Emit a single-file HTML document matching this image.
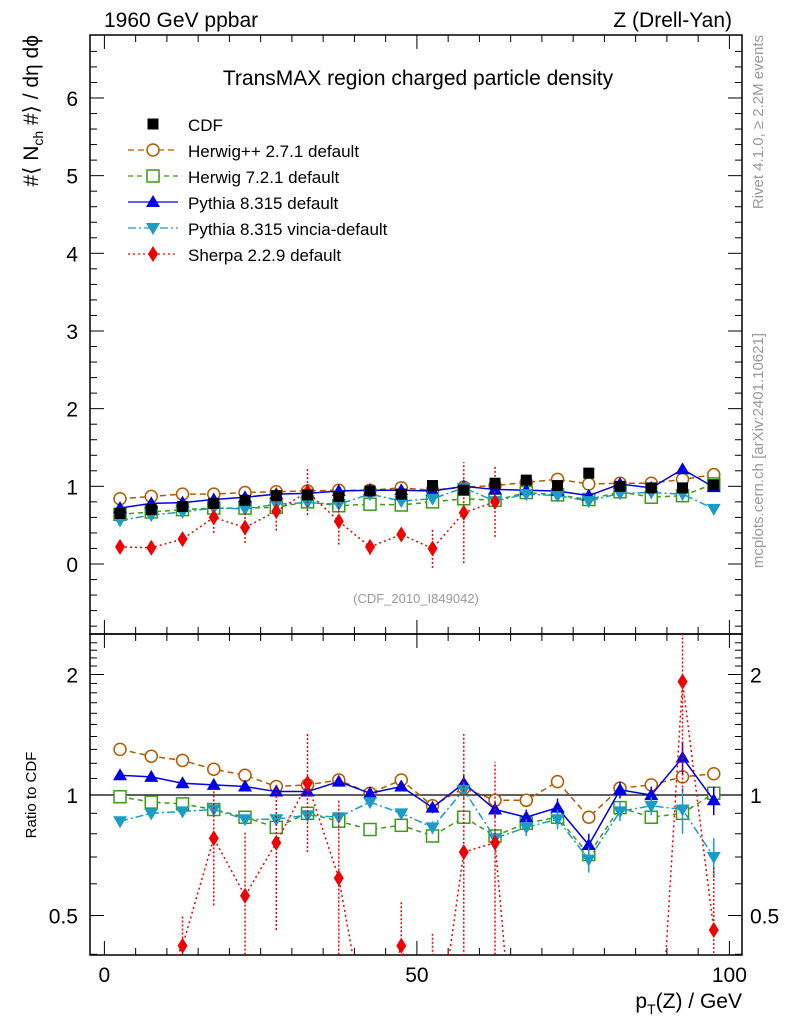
<!DOCTYPE html>
<html><head><meta charset="utf-8"><style>
html,body{margin:0;padding:0;background:#fff;width:786px;height:1024px;overflow:hidden;}
svg{display:block;font-family:"Liberation Sans",sans-serif;}
</style></head><body>
<svg id="c" width="786" height="1024" viewBox="0 0 786 1024"></svg>
<script>
const xCenters=[2.5,7.5,12.5,17.5,22.5,27.5,32.5,37.5,42.5,47.5,52.5,57.5,62.5,67.5,72.5,77.5,82.5,87.5,92.5,97.5];
const cdfVals=[0.65,0.70,0.74,0.78,0.82,0.88,0.89,0.87,0.94,0.90,1.01,0.95,1.04,1.08,1.01,1.17,1.0,0.98,0.98,1.02];
const herwigppVals=[0.84,0.87,0.90,0.90,0.92,0.93,0.94,0.95,0.95,0.98,0.95,0.99,1.01,1.05,1.09,1.03,1.04,1.04,1.09,1.15];
const herwig7Vals=[0.64,0.67,0.70,0.72,0.72,0.73,0.80,0.75,0.77,0.76,0.80,0.84,0.82,0.92,0.89,0.83,0.93,0.86,0.88,1.03];
const pythiaVals=[0.72,0.78,0.79,0.83,0.86,0.90,0.91,0.94,0.95,0.95,0.94,1.0,0.96,0.95,0.94,0.88,1.03,0.98,1.22,0.99];
const vinciaVals=[0.56,0.63,0.67,0.72,0.71,0.77,0.79,0.77,0.90,0.81,0.84,0.98,0.81,0.90,0.88,0.81,0.91,0.92,0.90,0.71];
const sherpaVals=[0.22,0.21,0.32,0.60,0.47,0.68,0.93,0.55,0.22,0.38,0.20,0.66,0.80];
const sherpaErr=[0.03,0.03,0.05,0.2,0.2,0.25,0.3,0.3,0.1,0.08,0.25,0.65,0.45];
const herwigppRatio=[1.30,1.25,1.22,1.16,1.12,1.05,1.06,1.09,1.01,1.09,0.94,1.04,0.97,0.97,1.08,0.88,1.04,1.06,1.11,1.13];
const herwig7Ratio=[0.99,0.96,0.95,0.92,0.88,0.83,0.90,0.86,0.82,0.84,0.79,0.88,0.79,0.85,0.88,0.71,0.93,0.88,0.90,1.01];
const pythiaRatio=[1.12,1.11,1.07,1.06,1.05,1.02,1.02,1.08,1.01,1.05,0.93,1.07,0.92,0.88,0.93,0.75,1.03,1.0,1.24,0.97];
const vinciaRatio=[0.86,0.90,0.91,0.92,0.87,0.87,0.89,0.88,0.96,0.90,0.83,1.03,0.78,0.83,0.87,0.69,0.91,0.94,0.92,0.70];
const sherpaRatio=[0.34,0.31,0.42,0.78,0.56,0.76,1.07,0.62,0.23,0.42,0.2,0.72,0.76,0.1,0.1,0.1,0.1,0.1,1.92,0.46];
const sherpaRatioErr=[0.05,0.05,0.08,0.25,0.25,0.3,0.35,0.35,0.1,0.12,0.25,0.7,0.45,0,0,0,0,0,0.9,0.2];
const pythiaRatioErr=[0.01,0.01,0.01,0.01,0.01,0.01,0.01,0.01,0.01,0.02,0.03,0.05,0.04,0.04,0.05,0.05,0.05,0.05,0.12,0.08];
const mainTicks=[0,1,2,3,4,5,6];
const ratioTicks=[0.5,1,2];
const xTicks=[0,50,100];

const L=90,R=742,T=35,M=634,B=955;
const X=v=>104.4+v*6.25;
const Y=v=>564-v*77.67;
const YR=v=>795-120.5*Math.log2(Math.max(v,0.05));
const svg=document.getElementById('c');
const NS='http://www.w3.org/2000/svg';
function mk(tag,attrs,parent){const e=document.createElementNS(NS,tag);for(const k in attrs)e.setAttribute(k,attrs[k]);(parent||svg).appendChild(e);return e;}
function txt(s,x,y,size,anchor,fill,parent){const t=mk('text',{x:x,y:y,'font-size':size,'text-anchor':anchor||'start',fill:fill||'#000'},parent);t.textContent=s;return t;}

const defs=mk('defs',{});
const c1=mk('clipPath',{id:'cm'},defs);mk('rect',{x:L,y:T,width:R-L,height:M-T},c1);
const c2=mk('clipPath',{id:'cr'},defs);mk('rect',{x:L,y:M,width:R-L,height:B-M},c2);

let f=mk('rect',{x:L,y:T,width:R-L,height:M-T,fill:'none',stroke:'#000','stroke-width':1.5});

f=mk('rect',{x:L,y:M,width:R-L,height:B-M,fill:'none',stroke:'#000','stroke-width':1.5});


for(let v=-0.8;v<=6.8;v+=0.2){const y=Y(v);if(y<T||y>M)continue;const major=Math.abs(v-Math.round(v))<1e-6;const l=major?14:7;
mk('line',{x1:L,y1:y,x2:L+l,y2:y,stroke:'#000'});mk('line',{x1:R,y1:y,x2:R-l,y2:y,stroke:'#000'});}
mainTicks.forEach(v=>{const t=txt(String(v),78,Y(v)+8,21,'end');});
for(let v=0.4;v<=2.5;v+=0.1){const y=YR(v);if(y<M||y>B)continue;const major=[0.5,1,2].some(m=>Math.abs(m-v)<1e-6);const l=major?14:7;
mk('line',{x1:L,y1:y,x2:L+l,y2:y,stroke:'#000'});mk('line',{x1:R,y1:y,x2:R-l,y2:y,stroke:'#000'});}
ratioTicks.forEach(v=>{let t=txt(String(v),78,YR(v)+8,21,'end');
t=txt(String(v),750,YR(v)+8,21,'start');});
for(let v=0;v<=100;v+=5){const x=X(v);if(x<L||x>R)continue;const l=v%50===0?14:7;
[T,M].forEach(yy=>mk('line',{x1:x,y1:yy,x2:x,y2:yy+l,stroke:'#000'}));
[M,B].forEach(yy=>mk('line',{x1:x,y1:yy,x2:x,y2:yy-l,stroke:'#000'}));}
xTicks.forEach(v=>{const t=txt(String(v),X(v),982,21,'middle');});
let r1=mk('line',{x1:L,y1:YR(1),x2:R,y2:YR(1),stroke:'#000','stroke-width':1.3});


function marker(g,type,x,y,color){
 if(type==='sq')mk('rect',{x:x-5.5,y:y-5.5,width:11,height:11,fill:'#000'},g);
 else if(type==='circ')mk('circle',{cx:x,cy:y,r:6,fill:'#fff',stroke:color,'stroke-width':1.5},g);
 else if(type==='osq')mk('rect',{x:x-6,y:y-6,width:12,height:12,fill:'#fff',stroke:color,'stroke-width':1.5},g);
 else if(type==='up')mk('polygon',{points:`${x},${y-7} ${x-7},${y+5} ${x+7},${y+5}`,fill:color},g);
 else if(type==='down')mk('polygon',{points:`${x},${y+7} ${x-7},${y-5} ${x+7},${y-5}`,fill:color},g);
 else if(type==='dia')mk('polygon',{points:`${x},${y-8} ${x-5},${y} ${x},${y+8} ${x+5},${y}`,fill:color},g);
}
const series=[
 {name:'herwigpp',color:'#b35900',dash:'6,4',type:'circ',vals:herwigppVals,rat:herwigppRatio,label:'Herwig++ 2.7.1 default'},
 {name:'herwig7',color:'#3c9a14',dash:'5,4',type:'osq',vals:herwig7Vals,rat:herwig7Ratio,label:'Herwig 7.2.1 default'},
 {name:'pythia',color:'#0000e6',dash:'',type:'up',vals:pythiaVals,rat:pythiaRatio,rerr:pythiaRatioErr,label:'Pythia 8.315 default'},
 {name:'vincia',color:'#1a9cc4',dash:'8,3,2,3',type:'down',vals:vinciaVals,rat:vinciaRatio,rerr:pythiaRatioErr,label:'Pythia 8.315 vincia-default'},
 {name:'sherpa',color:'#f00000',dash:'2,3',type:'dia',vals:sherpaVals,rat:sherpaRatio,err:sherpaErr,rerr:sherpaRatioErr,label:'Sherpa 2.2.9 default'}
];
series.forEach(s=>{
 const gm=mk('g',{'clip-path':'url(#cm)'});
 const pts=s.vals.map((v,i)=>X(xCenters[i])+','+Y(v)).join(' ');
 mk('polyline',{points:pts,fill:'none',stroke:s.color,'stroke-width':1.5,'stroke-dasharray':s.dash},gm);
 s.vals.forEach((v,i)=>{const x=X(xCenters[i]);
  if(s.err){mk('line',{x1:x,y1:Y(v-s.err[i]),x2:x,y2:Y(v+s.err[i]),stroke:s.color,'stroke-width':1.5,'stroke-dasharray':'2,2'},gm);}
  marker(gm,s.type,x,Y(v),s.color);});
 const gr=mk('g',{'clip-path':'url(#cr)'});
 const rp=s.rat.map((v,i)=>X(xCenters[i])+','+YR(v)).join(' ');
 mk('polyline',{points:rp,fill:'none',stroke:s.color,'stroke-width':1.5,'stroke-dasharray':s.dash},gr);
 s.rat.forEach((v,i)=>{const x=X(xCenters[i]);
  if(s.rerr&&s.rerr[i]>0){mk('line',{x1:x,y1:YR(v-s.rerr[i]),x2:x,y2:YR(v+s.rerr[i]),stroke:s.color,'stroke-width':1.5,'stroke-dasharray':s.name==='sherpa'?'2,2':''},gr);}
  marker(gr,s.type,x,YR(v),s.color);});
});
const gc=mk('g',{'clip-path':'url(#cm)'});
cdfVals.forEach((v,i)=>marker(gc,'sq',X(xCenters[i]),Y(v),'#000'));

const lg=mk('g',{});
marker(lg,'sq',153,124,'#000');txt('CDF',188,131,17,'start','#000',lg);
series.forEach((s,i)=>{const y=150+i*26;const e=mk('g',{},lg);
 mk('line',{x1:128,y1:y,x2:178,y2:y,stroke:s.color,'stroke-width':1.3,'stroke-dasharray':s.dash},e);marker(e,s.type,153,y,s.color);
 txt(s.label,188,y+7,17,'start','#000',e);});

let t;
t=txt('1960 GeV ppbar',104,27,21);
t=txt('Z (Drell-Yan)',732,27,21,'end');
t=txt('TransMAX region charged particle density',418,85,21,'middle');
t=txt('(CDF_2010_I849042)',416,603,13,'middle','#999');
t=txt('Ratio to CDF',0,0,15,'middle');t.setAttribute('transform','translate(36,795) rotate(-90)');
t=mk('text',{'font-size':21,'text-anchor':'end',transform:'translate(38,35) rotate(-90)'});t.innerHTML='#⟨ N<tspan font-size="14" dy="5">ch</tspan><tspan dy="-5"> #⟩ / dη dϕ</tspan>';
t=mk('text',{'font-size':21,'text-anchor':'end',x:742,y:1008});t.innerHTML='p<tspan font-size="14" dy="6">T</tspan><tspan dy="-6">(Z) / GeV</tspan>';
t=txt('Rivet 4.1.0, ≥ 2.2M events',0,0,15,'end','#999');t.setAttribute('transform','translate(763,35) rotate(-90)');
t=txt('mcplots.cern.ch [arXiv:2401.10621]',0,0,15,'end','#999');t.setAttribute('transform','translate(763,333) rotate(-90)');
</script>
</body></html>
